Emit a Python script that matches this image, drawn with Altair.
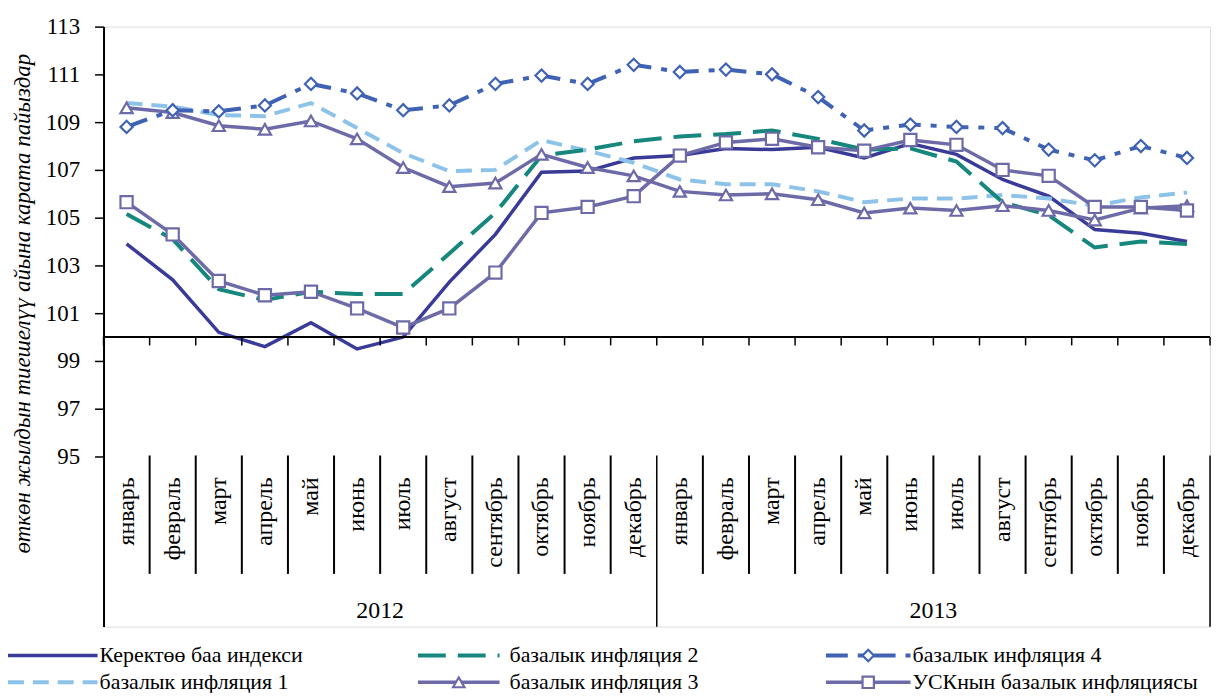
import altair as alt
import pandas as pd

months = ["январь", "февраль", "март", "апрель", "май", "июнь", "июль",
          "август", "сентябрь", "октябрь", "ноябрь", "декабрь"]
month_labels = months * 2
years = ["2012", "2013"]

cpi = [103.9, 102.4, 100.2, 99.6, 100.6, 99.5, 100.0, 102.3, 104.3, 106.9, 106.95, 107.5,
       107.6, 107.9, 107.85, 107.95, 107.5, 108.1, 107.65, 106.6, 105.9, 104.5, 104.35, 104.0]
base1 = [109.8, 109.65, 109.3, 109.25, 109.8, 108.75, 107.7, 106.95, 107.0, 108.25, 107.8, 107.3,
         106.6, 106.4, 106.4, 106.1, 105.65, 105.8, 105.8, 105.95, 105.8, 105.5, 105.85, 106.05]
base2 = [105.15, 104.1, 102.0, 101.55, 101.9, 101.8, 101.8, 103.5, 105.2, 107.6, 107.85, 108.2,
         108.4, 108.5, 108.65, 108.3, 107.85, 107.9, 107.35, 105.65, 105.1, 103.75, 104.0, 103.9]
base3 = [109.6, 109.4, 108.85, 108.7, 109.05, 108.3, 107.1, 106.3, 106.45, 107.65, 107.1, 106.75,
         106.1, 105.95, 106.0, 105.75, 105.2, 105.4, 105.3, 105.5, 105.3, 104.9, 105.4, 105.5]
base4 = [108.8, 109.5, 109.45, 109.7, 110.6, 110.2, 109.5, 109.7, 110.6, 110.95, 110.6, 111.4,
         111.1, 111.2, 111.0, 110.05, 108.65, 108.9, 108.8, 108.75, 107.85, 107.4, 108.0, 107.5]
usk = [105.65, 104.3, 102.35, 101.75, 101.9, 101.2, 100.4, 101.2, 102.7, 105.2, 105.45, 105.9,
       107.6, 108.15, 108.3, 107.95, 107.8, 108.25, 108.05, 107.0, 106.75, 105.45, 105.45, 105.3]

names = ["Керектөө баа индекси", "базалык инфляция 1", "базалык инфляция 2",
         "базалык инфляция 3", "базалык инфляция 4", "УСКнын базалык инфляциясы"]

FONT = "'Liberation Serif', 'Times New Roman', 'DejaVu Serif', serif"
C_CPI = "#3a3a98"
C_B1 = "#8ec3e9"
C_B2 = "#15877c"
C_B34 = "#6d6aa8"
C_B4 = "#3f62b4"

styles = {
    names[0]: dict(color=C_CPI, dash=None, width=3.5, shape=None),
    names[1]: dict(color=C_B1, dash=[16, 9], width=4, shape=None),
    names[2]: dict(color=C_B2, dash=[28, 12], width=4, shape=None),
    names[3]: dict(color=C_B34, dash=None, width=3.5, shape="triangle-up"),
    names[4]: dict(color=C_B4, dash=[22, 10, 6, 10], width=4, shape="diamond"),
    names[5]: dict(color=C_B34, dash=None, width=3.5, shape="square"),
}
series = dict(zip(names, [cpi, base1, base2, base3, base4, usk]))

X_SCALE = alt.Scale(domain=[-0.5, 23.5], nice=False, zero=False)
Y_SCALE = alt.Scale(domain=[87.875, 113], nice=False, zero=False)
Y_AXIS = alt.Axis(values=list(range(95, 114, 2)), grid=False, tickSize=9, tickWidth=1.5,
                  tickColor="black", domainColor="black", domainWidth=2,
                  labelFont=FONT, labelFontSize=23, labelColor="black", labelPadding=15,
                  title="өткөн жылдын тиешелүү айына карата пайыздар",
                  titleFont=FONT, titleFontSize=23, titleFontStyle="italic",
                  titleFontWeight="normal", titleColor="black",
                  titleAngle=270, titleX=-81, titleY=278, titleAlign="center",
                  titleBaseline="middle")


def X(field="idx"):
    return alt.X(f"{field}:Q", scale=X_SCALE, axis=None)


def Y(field="value"):
    return alt.Y(f"{field}:Q", scale=Y_SCALE, axis=Y_AXIS)


layers = []
for name in names:
    st = styles[name]
    df = pd.DataFrame({"idx": list(range(24)), "value": series[name]})
    base = alt.Chart(df).encode(x=X(), y=Y())
    kw = dict(color=st["color"], strokeWidth=st["width"])
    if st["dash"]:
        kw["strokeDash"] = st["dash"]
    layers.append(base.mark_line(**kw))
    if st["shape"]:
        layers.append(base.mark_point(shape=st["shape"], filled=True, fill="white",
                                      stroke=st["color"], strokeWidth=2.2, size=150,
                                      opacity=1))

# category axis line at 100 and its ticks
axis_df = pd.DataFrame({"x": [-0.5], "x2": [23.5], "value": [100.0]})
layers.append(alt.Chart(axis_df).mark_rule(color="black", strokeWidth=2).encode(
    x=X("x"), x2="x2:Q", y=Y()))
tick_df = pd.DataFrame({"x": [k - 0.5 for k in range(25)], "value": 100.0, "y2": 99.65})
layers.append(alt.Chart(tick_df).mark_rule(color="black", strokeWidth=1.5).encode(
    x=X("x"), y=Y(), y2="y2:Q"))

# month separators
sep_df = pd.DataFrame({"x": [i + 0.5 for i in range(23) if i != 11]})
layers.append(alt.Chart(sep_df).mark_rule(color="black", strokeWidth=2).encode(
    x=X("x"), y=alt.value(431), y2=alt.value(550)))
ysep_df = pd.DataFrame({"x": [11.5, 23.5]})
layers.append(alt.Chart(ysep_df).mark_rule(color="black", strokeWidth=1.5).encode(
    x=X("x"), y=alt.value(431), y2=alt.value(603)))

# month labels
mdf = pd.DataFrame({"idx": list(range(24)), "label": month_labels})
layers.append(alt.Chart(mdf).mark_text(angle=270, align="right", baseline="middle",
                                       font=FONT, fontSize=24, color="black").encode(
    x=X(), y=alt.value(453), text="label:N"))
ydf = pd.DataFrame({"idx": [5.5, 17.5], "label": years})
layers.append(alt.Chart(ydf).mark_text(align="center", baseline="middle",
                                       font=FONT, fontSize=24, color="black").encode(
    x=X(), y=alt.value(587), text="label:N"))

# legend
dummy = pd.DataFrame({"a": [0]})
legend_pos = [
    (names[0], -96, -6, 632, -4),
    (names[2], 316, 398, 632, 408),
    (names[4], 726, 811, 632, 813),
    (names[1], -96, -6, 659, -4),
    (names[3], 316, 398, 659, 408),
    (names[5], 726, 811, 659, 813),
]
for name, x0, x1, yy, tx in legend_pos:
    st = styles[name]
    kw = dict(color=st["color"], strokeWidth=st["width"])
    if st["dash"]:
        kw["strokeDash"] = st["dash"]
    layers.append(alt.Chart(dummy).mark_rule(**kw).encode(
        x=alt.value(x0), x2=alt.value(x1), y=alt.value(yy)))
    if st["shape"]:
        layers.append(alt.Chart(dummy).mark_point(
            shape=st["shape"], filled=True, fill="white", stroke=st["color"],
            strokeWidth=2.2, size=130, opacity=1).encode(
            x=alt.value((x0 + x1) / 2), y=alt.value(yy)))
    layers.append(alt.Chart(dummy).mark_text(
        align="left", baseline="middle", font=FONT, fontSize=22, color="black").encode(
        x=alt.value(tx), y=alt.value(yy), text=alt.value(name)))

chart = alt.layer(*layers).properties(
    width=1112, height=603,
    autosize=alt.AutoSizeParams(type="none"),
    padding={"left": 96, "top": 17, "right": 3, "bottom": 65},
).configure_view(stroke=None).configure(background="white")

chart.save("out.html", embed_options={"renderer": "svg", "actions": False})
